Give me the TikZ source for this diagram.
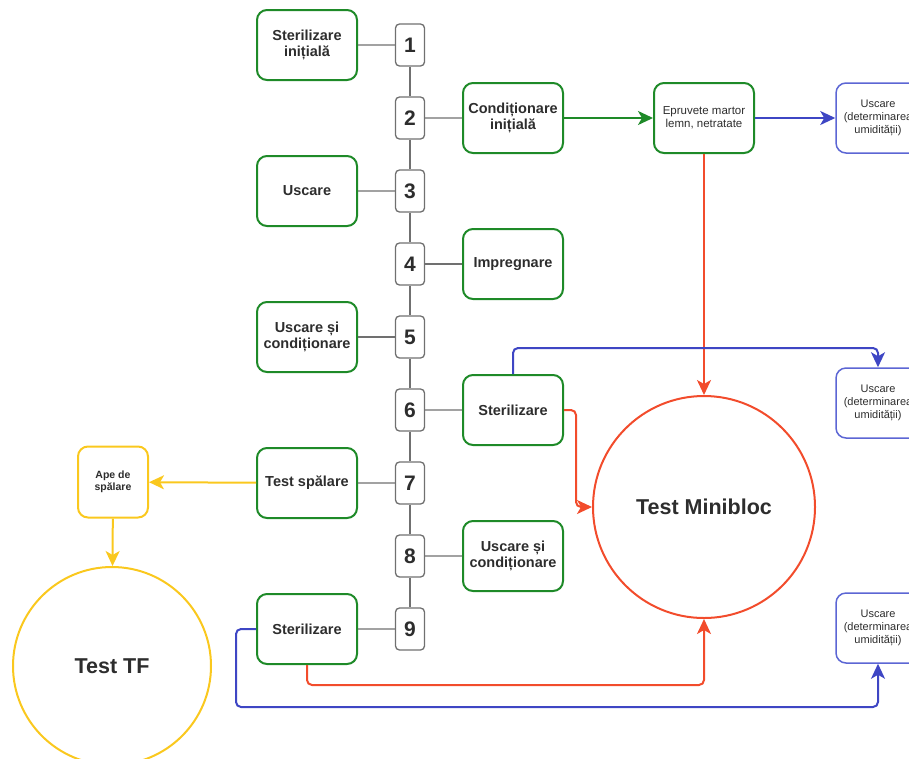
\documentclass[tikz,border=0pt]{standalone}
\usepackage{fontspec}
\setmainfont{Liberation Sans}
\usetikzlibrary{matrix, arrows.meta}

\definecolor{boxgreen}{RGB}{30,138,40}
\definecolor{flowred}{RGB}{242,76,44}
\definecolor{flowblue}{RGB}{62,70,196}
\definecolor{dryblue}{RGB}{92,102,212}
\definecolor{washyellow}{RGB}{250,200,30}
\definecolor{linkgray}{RGB}{112,112,112}
\definecolor{textgray}{RGB}{45,45,45}

\tikzset{
  stage/.style = {draw = boxgreen, line width = 2pt, rounded corners = 10pt,
    minimum width = 100pt, minimum height = 70pt, align = center, text = textgray,
    font = \bfseries\fontsize{14.5}{16.5}\selectfont},
  numbox/.style = {draw = linkgray, line width = 1.3pt, rounded corners = 4pt,
    minimum width = 29pt, minimum height = 42pt, inner sep = 0pt, text = textgray,
    font = \bfseries\fontsize{21}{23}\selectfont},
  drybox/.style = {draw = dryblue, line width = 1.5pt, rounded corners = 10pt,
    minimum width = 84pt, minimum height = 70pt, align = center, text = textgray,
    font = \fontsize{11}{13}\selectfont},
  washbox/.style = {draw = washyellow, line width = 2pt, rounded corners = 10pt,
    minimum width = 70pt, minimum height = 71pt, align = center, text = textgray,
    font = \bfseries\fontsize{10.5}{12.5}\selectfont},
  testcircle/.style = {circle, line width = 2pt, inner sep = 0pt, text = textgray,
    font = \bfseries\fontsize{21.5}{24}\selectfont},
  link/.style = {draw = linkgray, line width = 1.3pt},
  flow/.style = {line width = 2pt, rounded corners = 5pt,
    -{Stealth[length = 15pt, width = 14pt, inset = 4pt]}}
}

\begin{document}
\begin{tikzpicture}[x = 1pt, y = -1pt]
\useasboundingbox (0,0) rectangle (909,758);

\matrix (m) [matrix of nodes, row sep = 29.7pt, nodes = {numbox}] at (410,337) {
1 \\ 2 \\ 3 \\ 4 \\ 5 \\ 6 \\ 7 \\ 8 \\ 9 \\
};

\node[stage] (steril1) at (307,45) {Sterilizare\\inițială};
\node[stage] (uscare1) at (307,191) {Uscare};
\node[stage] (uscond1) at (307,337) {Uscare și\\condiționare};
\node[stage] (testsp) at (307,483) {Test spălare};
\node[stage] (steril3) at (307,629) {Sterilizare};

\node[stage] (cond1) at (513,118) {Condiționare\\inițială};
\node[stage] (impreg) at (513,264) {Impregnare};
\node[stage] (steril2) at (513,410) {Sterilizare};
\node[stage] (uscond2) at (513,556) {Uscare și\\condiționare};

\node[stage, font = \fontsize{11.5}{13.5}\selectfont] (martor) at (704,118) {Epruvete martor\\lemn, netratate};

\node[drybox] (usc1) at (878,118) {Uscare\\(determinarea\\umidității)};
\node[drybox] (usc2) at (878,403) {Uscare\\(determinarea\\umidității)};
\node[drybox] (usc3) at (878,628) {Uscare\\(determinarea\\umidității)};

\node[washbox] (ape) at (113,482) {Ape de\\spălare};

\node[testcircle, draw = flowred, minimum size = 222pt] (mini) at (704,507) {Test Minibloc};
\node[testcircle, draw = washyellow, minimum size = 198pt] (tf) at (112,666) {Test TF};

\foreach \i [count = \j from 2] in {1,...,8}
  \draw[link] (m-\i-1) -- (m-\j-1);
\draw[link] (steril1) -- (m-1-1);
\draw[link] (m-2-1) -- (cond1);
\draw[link] (uscare1) -- (m-3-1);
\draw[link] (m-4-1) -- (impreg);
\draw[link] (uscond1) -- (m-5-1);
\draw[link] (m-6-1) -- (steril2);
\draw[link] (testsp) -- (m-7-1);
\draw[link] (m-8-1) -- (uscond2);
\draw[link] (steril3) -- (m-9-1);

\draw[flow, boxgreen] (cond1) -- (martor);
\draw[flow, flowblue] (martor) -- (usc1);
\draw[flow, flowred] (martor) -- (mini);
\draw[flow, flowblue] (steril2.north) -- ++(0,-26) -| (usc2.north);
\draw[flow, flowred] (steril2.east) -- ++(12,0) |- (mini.west);
\draw[flow, flowred] (steril3.south) -- ++(0,20) -| (mini.south);
\draw[flow, flowblue] (steril3.west) -- ++(-20,0) -- ++(0,78) -| (usc3.south);
\draw[flow, washyellow] (testsp) -- (ape);
\draw[flow, washyellow] (ape) -- (tf);
\end{tikzpicture}
\end{document}
